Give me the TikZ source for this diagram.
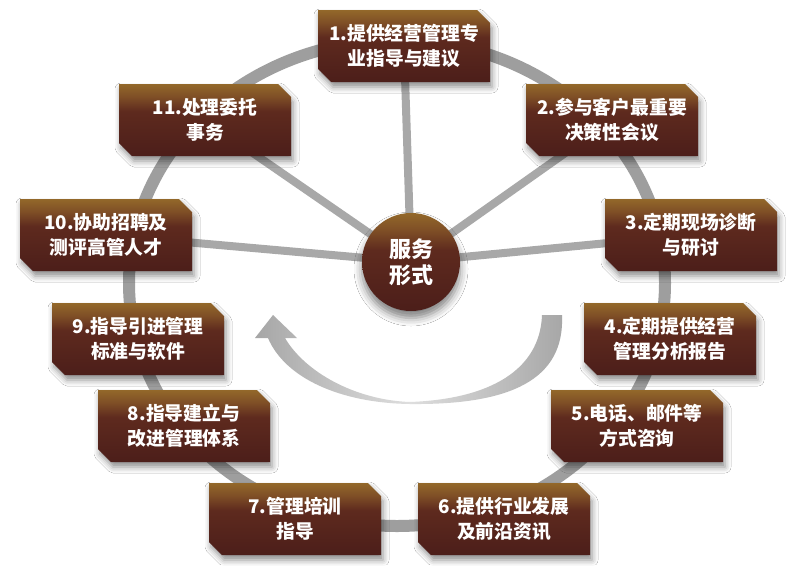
\documentclass[tikz,border=0pt]{standalone}
\usepackage{fontspec}
\newfontfamily\cjk{Noto Sans CJK SC}
\usetikzlibrary{shadows.blur}
\definecolor{boxtop}{HTML}{93682A}
\definecolor{boxup}{HTML}{7E4E26}
\definecolor{boxmid}{HTML}{5E2A1E}
\definecolor{boxbot}{HTML}{4C1E1A}
\definecolor{ringgray}{HTML}{9E9E9E}
\definecolor{spokegray}{HTML}{A8A8A8}
\definecolor{arrowgray}{HTML}{A6A6A6}
\definecolor{arrowlight}{HTML}{DEDEDE}
\pgfdeclareverticalshading{boxshade}{100bp}{color(0bp)=(boxbot); color(25bp)=(boxbot); color(56bp)=(boxmid); color(66bp)=(boxup); color(75bp)=(boxtop); color(100bp)=(boxtop)}
\pgfdeclarelayer{bg}
\pgfsetlayers{bg,main}
\tikzset{
  boxbody/.style={shading=boxshade, blur shadow={shadow xshift=2pt, shadow yshift=-5pt, shadow blur radius=6pt, shadow opacity=45}},
  boxtext/.style={text=white, align=center, inner sep=0pt, font=\cjk\bfseries\fontsize{18.8}{25}\selectfont},
  hubnode/.style={circle, minimum size=98pt, inner sep=0pt, shading=boxshade, text=white, align=center,
    font=\cjk\bfseries\fontsize{22}{26}\selectfont,
    blur shadow={shadow xshift=0pt, shadow yshift=-7pt, shadow blur radius=8pt, shadow opacity=50}},
  ringline/.style={draw=ringgray, line width=12pt},
  spoke/.style={draw=spokegray, line width=8pt},
  bigarrow/.style={left color=arrowgray, right color=arrowgray, middle color=arrowlight, draw=none}
}
\newcommand{\svcbox}[4]{%
  \begin{scope}[shift={(#2,#3)}]
    \path[boxbody] (-86,-36) -- (73,-36) -- (86,-23) -- (86,36) -- (-73,36) -- (-86,23) -- cycle;
    \node[boxtext] (#1) at (0,0) {#4};
  \end{scope}}
\begin{document}
\begin{tikzpicture}[x=1pt, y=-1pt]
\useasboundingbox (0,0) rectangle (800,565);

\svcbox{b1}{404}{46}{1.提供经营管理专\\业指导与建议}
\svcbox{b2}{612}{120}{2.参与客户最重要\\决策性会议}
\svcbox{b3}{691}{235}{3.定期现场诊断\\与研讨}
\svcbox{b4}{670}{339}{4.定期提供经营\\管理分析报告}
\svcbox{b5}{637}{426}{5.电话、邮件等\\方式咨询}
\svcbox{b6}{504}{519}{6.提供行业发展\\及前沿资讯}
\svcbox{b7}{295}{519}{7.管理培训\\指导}
\svcbox{b8}{184}{426}{8.指导建立与\\改进管理体系}
\svcbox{b9}{138}{339}{9.指导引进管理\\标准与软件}
\svcbox{b10}{106}{235}{10.协助招聘及\\测评高管人才}
\svcbox{b11}{205}{120}{11.处理委托\\事务}

\node[hubnode] (c) at (411,262) {服务\\形式};

\begin{pgfonlayer}{bg}
  \fill[white] (0,0) rectangle (800,565);
  \draw[ringline] (397,283) ellipse [x radius=268pt, y radius=243pt];
  \foreach \b in {b1,b2,b3,b10,b11}
    \draw[spoke] (c.center) -- (\b.center);
  \path[bigarrow] (542,315) -- (562,315)
    .. controls (565,380) and (510,405) .. (410,404)
    .. controls (340,403) and (285,378) .. (268,338)
    -- (255,338) -- (273,315) -- (297,338) -- (285,338)
    .. controls (305,372) and (355,400) .. (410,402)
    .. controls (490,399) and (540,370) .. (542,315) -- cycle;
\end{pgfonlayer}
\end{tikzpicture}
\end{document}
